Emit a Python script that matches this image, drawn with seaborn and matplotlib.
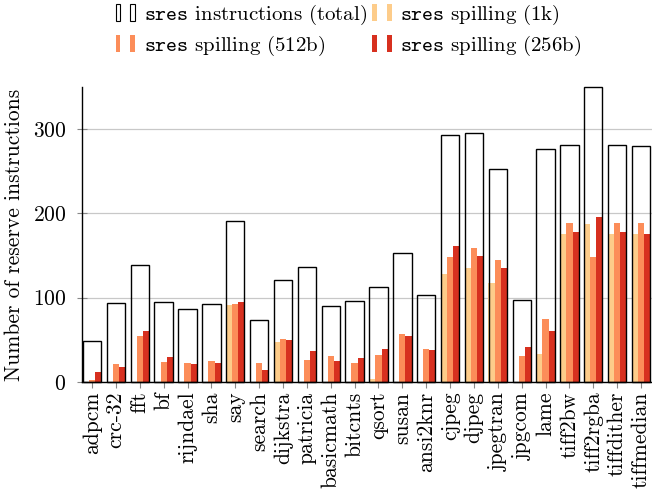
import matplotlib
matplotlib.use("Agg")
import matplotlib.pyplot as plt
import seaborn as sns
import pandas as pd
from matplotlib.patches import Rectangle
from matplotlib.legend_handler import HandlerTuple

# benchmarks and values
benchmarks = ["adpcm", "crc-32", "fft", "bf", "rijndael", "sha", "say", "search",
              "dijkstra", "patricia", "basicmath", "bitcnts", "qsort", "susan",
              "ansi2knr", "cjpeg", "djpeg", "jpegtran", "jpgcom", "lame",
              "tiff2bw", "tiff2rgba", "tiffdither", "tiffmedian"]
total = [49, 94, 139, 95, 87, 92, 191, 73, 121, 137, 90, 96, 113, 153,
         103, 293, 296, 253, 97, 277, 281, 350, 281, 280]
spill_1k = [0, 0, 0, 0, 0, 0, 91, 0, 47, 0, 0, 0, 3, 0,
            0, 128, 135, 118, 0, 33, 175, 187, 176, 175]
spill_512 = [2, 21, 55, 24, 22, 25, 93, 22, 51, 26, 31, 22, 32, 57,
             39, 148, 159, 145, 31, 75, 189, 148, 189, 189]
spill_256 = [12, 18, 61, 30, 21, 22, 95, 14, 50, 37, 25, 29, 39, 55,
             38, 161, 150, 135, 42, 61, 178, 196, 178, 176]

series = ["1k", "512b", "256b"]
colors = ["#fdcc8a", "#fc8d59", "#d7301f"]

plt.rcParams["font.family"] = "cmr10"
plt.rcParams["mathtext.fontset"] = "cm"
plt.rcParams["axes.formatter.use_mathtext"] = True

FS = 15.5


def build_frame():
    rows = []
    for name, vals in zip(series, [spill_1k, spill_512, spill_256]):
        for b, v in zip(benchmarks, vals):
            rows.append({"bench": b, "config": name, "value": v})
    return pd.DataFrame(rows)


def plot():
    fig = plt.figure(figsize=(6.52, 4.93), dpi=100)
    ax = fig.add_axes([0.1258, 0.2252, 0.8757, 0.5983])

    df = build_frame()
    tot = pd.DataFrame({"bench": benchmarks, "total": total})

    sns.barplot(data=df, x="bench", y="value", hue="config", palette=colors,
                saturation=1, width=0.79, linewidth=0, ax=ax, legend=False,
                errorbar=None, zorder=2)
    n_before = len(ax.patches)
    sns.barplot(data=tot, x="bench", y="total", fill=False, color="black",
                width=0.77, linewidth=1.0, ax=ax, errorbar=None, zorder=3)
    for p in ax.patches[n_before:]:
        p.set_clip_on(False)

    ax.set_ylim(0, 350)
    ax.set_xlim(-0.42, len(benchmarks) - 0.5)
    ax.set_yticks([0, 100, 200, 300])
    ax.yaxis.grid(True, color="#c8c8c8", linewidth=0.9, zorder=0)
    ax.set_axisbelow(True)
    for s in ["top", "right"]:
        ax.spines[s].set_visible(False)
    ax.spines["left"].set_linewidth(1.0)
    ax.spines["bottom"].set_linewidth(1.0)
    ax.tick_params(axis="y", direction="inout", length=7, color="#888888",
                   labelsize=FS, pad=8)
    ax.tick_params(axis="x", direction="out", length=4, color="#888888",
                   labelsize=FS, pad=3)
    ax.set_xticks(range(len(benchmarks)))
    ax.set_xticklabels(benchmarks, rotation=90, va="top")
    ax.set_xlabel("")
    ax.set_ylabel("Number of reserve instructions", fontsize=FS, labelpad=6)

    # legend with two small bars per entry
    def handle(fc, ec):
        return tuple(Rectangle((0, 0), 1, 1, facecolor=fc, edgecolor=ec,
                               linewidth=0.8) for _ in range(2))

    handles = [handle("none", "black"), handle(colors[1], "none"),
               handle(colors[0], "none"), handle(colors[2], "none")]
    labels = [r"$\mathtt{sres}$ instructions (total)",
              r"$\mathtt{sres}$ spilling (512b)",
              r"$\mathtt{sres}$ spilling (1k)",
              r"$\mathtt{sres}$ spilling (256b)"]
    fig.legend(handles, labels, ncol=2, loc="upper left",
               bbox_to_anchor=(0.158, 1.02), frameon=False, fontsize=15,
               handler_map={tuple: HandlerTuple(ndivide=None, pad=0.48)},
               handlelength=0.95, handleheight=0.85, handletextpad=0.4,
               columnspacing=0.25, labelspacing=0.32, borderaxespad=0.2)

    fig.savefig("out.png", dpi=100)


if __name__ == "__main__":
    plot()
